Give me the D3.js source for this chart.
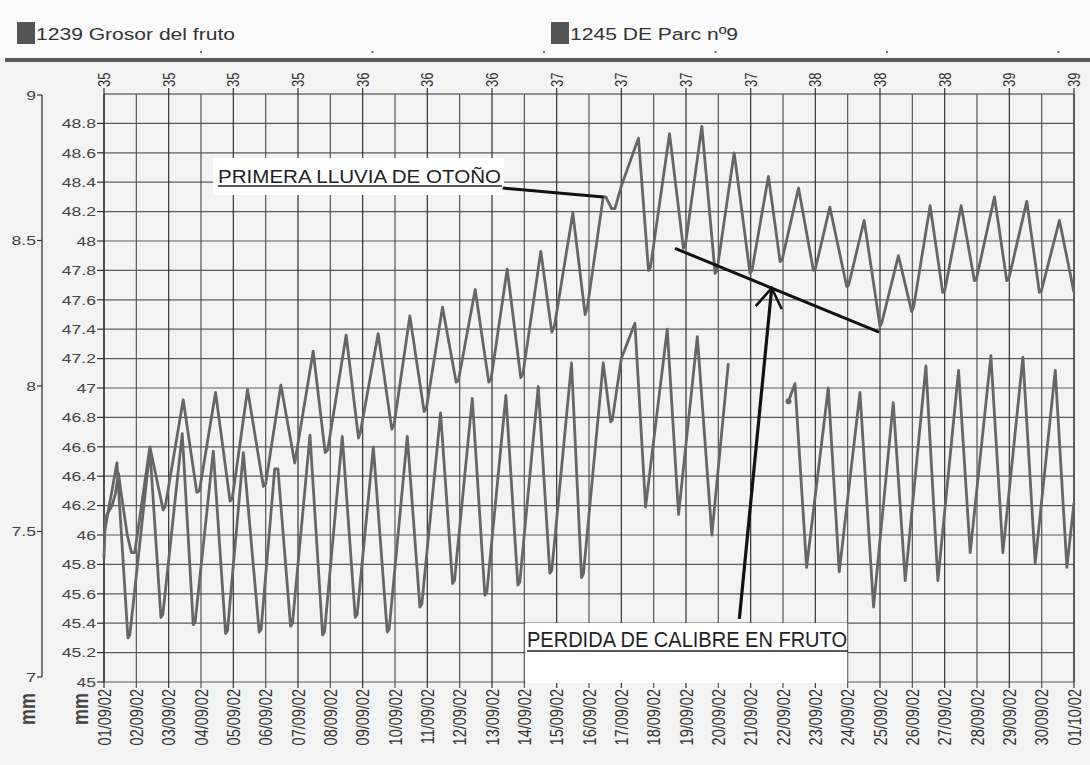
<!DOCTYPE html>
<html>
<head>
<meta charset="utf-8">
<script src="https://d3js.org/d3.v7.min.js"></script>
<style>
  body { margin: 0; background: #f3f3f3; }
  svg { display: block; font-family: "Liberation Sans", Arial, sans-serif; }
</style>
</head>
<body>
<svg id="chart" width="1090" height="765"></svg>
<script>
// ---- datos ----
const legendNames = ['1239 Grosor del fruto', '1245 DE Parc nº9'];

const dateLabels = ['01/09/02','02/09/02','03/09/02','04/09/02','05/09/02','06/09/02','07/09/02','08/09/02',
  '09/09/02','10/09/02','11/09/02','12/09/02','13/09/02','14/09/02','15/09/02','16/09/02','17/09/02',
  '18/09/02','19/09/02','20/09/02','21/09/02','22/09/02','23/09/02','24/09/02','25/09/02','26/09/02',
  '27/09/02','28/09/02','29/09/02','30/09/02','01/10/02'];

// semana (eje superior, cada 2 dias)
const weekLabels = ['35','35','35','35','36','36','36','37','37','37','37','38','38','38','39','39'];

const mmTicks = [45, 45.2, 45.4, 45.6, 45.8, 46, 46.2, 46.4, 46.6, 46.8, 47, 47.2, 47.4, 47.6, 47.8, 48, 48.2, 48.4, 48.6, 48.8];
const outerTicks = [7, 7.5, 8, 8.5, 9];

// [dia desde 01/09, mm]
const upperSeries = [
  [0,45.84],[0.04,46.12],[0.25,46.2],[0.35,46.28],[0.45,46.42],[0.52,46.3],[0.72,46.0],[0.85,45.88],[0.95,45.88],
  [1.42,46.6],[1.83,46.17],[1.9,46.2],[2.45,46.92],[2.87,46.29],[2.95,46.3],[3.45,46.97],[3.9,46.23],[3.97,46.25],
  [4.44,46.99],[4.93,46.33],[5.0,46.35],[5.47,47.02],[5.9,46.49],[6.47,47.25],[6.84,46.56],[6.92,46.58],
  [7.49,47.36],[7.87,46.66],[7.93,46.7],[8.48,47.37],[8.9,46.72],[8.97,46.75],[9.46,47.49],[9.9,46.84],[9.97,46.86],
  [10.47,47.55],[10.89,47.04],[10.96,47.05],[11.48,47.67],[11.9,47.04],[11.97,47.06],[12.47,47.81],[12.89,47.07],
  [12.96,47.1],[13.51,47.93],[13.85,47.38],[13.93,47.42],[14.5,48.19],[14.88,47.5],[14.95,47.55],[15.44,48.3],
  [15.52,48.3],[15.7,48.22],[15.8,48.22],[16.01,48.38],[16.53,48.7],[16.84,47.8],[16.9,47.82],[17.49,48.73],
  [17.92,47.95],[17.98,47.97],[18.49,48.78],[18.9,47.78],[18.96,47.8],[19.49,48.6],[19.98,47.78],[20.04,47.8],
  [20.55,48.44],[20.91,47.86],[20.97,47.87],[21.48,48.36],[21.94,47.8],[22.0,47.81],[22.45,48.23],[22.97,47.69],
  [23.03,47.7],[23.51,48.14],[24.0,47.42],[24.05,47.44],[24.57,47.9],[24.98,47.52],[25.04,47.55],[25.55,48.24],
  [25.94,47.65],[26.0,47.66],[26.51,48.24],[26.92,47.73],[26.98,47.74],[27.54,48.3],[27.92,47.73],[27.98,47.74],
  [28.54,48.27],[28.93,47.65],[28.99,47.66],[29.55,48.14],[30.0,47.65]
];

const lowerSeries = [
  [0,46.0],[0.4,46.49],[0.74,45.3],[0.8,45.32],[1.42,46.58],[1.76,45.44],[1.82,45.46],[2.42,46.69],[2.76,45.39],
  [2.82,45.41],[3.38,46.57],[3.76,45.33],[3.82,45.35],[4.31,46.56],[4.8,45.34],[4.86,45.36],[5.28,46.45],[5.38,46.45],
  [5.77,45.38],[5.83,45.4],[6.37,46.68],[6.76,45.32],[6.82,45.34],[7.37,46.67],[7.77,45.44],[7.83,45.46],[8.33,46.6],
  [8.76,45.34],[8.82,45.36],[9.38,46.67],[9.77,45.51],[9.83,45.53],[10.41,46.83],[10.78,45.67],[10.84,45.69],
  [11.39,46.93],[11.78,45.59],[11.84,45.61],[12.43,46.95],[12.8,45.66],[12.86,45.68],[13.43,47.01],[13.79,45.74],
  [13.85,45.76],[14.46,47.17],[14.77,45.71],[14.83,45.74],[15.44,47.17],[15.67,46.77],[15.72,46.78],[16.0,47.2],
  [16.42,47.44],[16.75,46.19],[17.42,47.4],[17.77,46.14],[18.35,47.35],[18.8,46.0],[19.31,47.17],
  [20.2,null],
  [21.17,46.91],[21.37,47.03],[21.73,45.78],[22.4,47.0],[22.74,45.75],[23.38,46.97],[23.8,45.51],[24.41,46.9],
  [24.78,45.69],[25.42,47.15],[25.79,45.69],[26.43,47.12],[26.79,45.88],[27.43,47.22],[27.8,45.88],[28.42,47.21],
  [28.8,45.81],[29.42,47.12],[29.78,45.78],[30.0,46.22]
];

// anotaciones en unidades de datos [dia, mm]
const rainNote = { text: 'PRIMERA LLUVIA DE OTOÑO', from: [12.33, 48.36], to: [15.45, 48.3] };
const lossNote = { text: 'PERDIDA DE CALIBRE EN FRUTO', lineFrom: [17.66, 47.95], lineTo: [23.97, 47.38],
                   arrowFrom: [19.65, 45.43], arrowTo: [20.65, 47.68] };

// ---- dibujo ----
const svg = d3.select('#chart');

const x = d3.scaleLinear().domain([0, 30]).range([104, 1074]);
const y = d3.scaleLinear().domain([45, 49]).range([682, 94]);
const yOut = d3.scaleLinear().domain([7, 9]).range([677, 95]);

svg.append('rect').attr('width', 1090).attr('height', 765).attr('fill', '#f3f3f3');
svg.append('rect').attr('width', 1090).attr('height', 58).attr('fill', '#fbfbfb');

// leyenda
const leg = svg.append('g');
legendNames.forEach((name, i) => {
  const lx = 17 + i * 534;
  leg.append('rect').attr('x', lx).attr('y', 22).attr('width', 18).attr('height', 22).attr('fill', '#555');
  leg.append('text').attr('transform', `translate(${lx + 19},40) scale(1.24,1)`)
    .attr('font-size', 17).attr('fill', '#333').text(name);
});
d3.range(6).forEach(i => {
  leg.append('rect').attr('x', 200 + i * 171.5).attr('y', 51).attr('width', 2).attr('height', 2).attr('fill', '#777');
});
svg.append('line').attr('x1', 5).attr('x2', 1090).attr('y1', 60).attr('y2', 60)
  .attr('stroke', '#5a5a5a').attr('stroke-width', 4);

// rejilla
const grid = svg.append('g');
grid.selectAll('line.h').data(mmTicks.concat([49])).join('line')
  .attr('x1', x(0)).attr('x2', x(30)).attr('y1', d => y(d)).attr('y2', d => y(d))
  .attr('stroke', d => d === 49 ? '#333' : '#5c5c5c').attr('stroke-width', 1.2);
grid.selectAll('line.v').data(dateLabels).join('line')
  .attr('x1', (d, i) => x(i)).attr('x2', (d, i) => x(i)).attr('y1', y(49)).attr('y2', y(45) + 6)
  .attr('stroke', (d, i) => i % 2 === 0 ? '#333' : '#555').attr('stroke-width', 1.2);

// cajas blancas de anotacion
svg.append('rect').attr('x', 213).attr('y', 158).attr('width', 291).attr('height', 37).attr('fill', '#fff');
svg.append('rect').attr('x', x(13) + 1).attr('y', 623).attr('width', x(23) - x(13) - 1.5).attr('height', 60).attr('fill', '#fff');

// eje izquierdo mm (45-49)
const axL = svg.append('g');
axL.append('line').attr('x1', x(0)).attr('x2', x(0)).attr('y1', y(49)).attr('y2', y(45))
  .attr('stroke', '#333').attr('stroke-width', 1.3);
mmTicks.forEach(t => {
  axL.append('line').attr('x1', x(0) - 7).attr('x2', x(0)).attr('y1', y(t)).attr('y2', y(t))
    .attr('stroke', '#333').attr('stroke-width', 1.2);
  axL.append('text').attr('transform', `translate(${x(0) - 8},${y(t)}) scale(1.3,1)`)
    .attr('text-anchor', 'end').attr('dy', '0.36em').attr('font-size', 13.5).attr('fill', '#444')
    .text(String(+t.toFixed(1)));
});

// eje exterior (7-9)
const axO = svg.append('g');
axO.append('line').attr('x1', 42).attr('x2', 42).attr('y1', yOut(9)).attr('y2', yOut(7))
  .attr('stroke', '#333').attr('stroke-width', 1.3);
outerTicks.forEach(t => {
  axO.append('line').attr('x1', 37).attr('x2', 42).attr('y1', yOut(t)).attr('y2', yOut(t))
    .attr('stroke', '#333').attr('stroke-width', 1.2);
  axO.append('text').attr('transform', `translate(36,${yOut(t)}) scale(1.3,1)`)
    .attr('text-anchor', 'end').attr('dy', '0.36em').attr('font-size', 13.5).attr('fill', '#444')
    .text(String(t));
});

// titulos mm
[35, 88].forEach(bx => {
  svg.append('text').attr('transform', `translate(${bx},693) scale(1.2,1) rotate(-90)`)
    .attr('text-anchor', 'end').attr('font-size', 18).attr('font-weight', 'bold').attr('fill', '#444').text('mm');
});

// eje inferior (fechas)
const axB = svg.append('g');
dateLabels.forEach((lab, i) => {
  axB.append('text').attr('transform', `translate(${x(i)},689) scale(1.25,1) rotate(-90)`)
    .attr('text-anchor', 'end').attr('dy', '0.36em').attr('font-size', 14.5).attr('fill', '#333').text(lab);
});

// eje superior (semana)
const axT = svg.append('g');
weekLabels.forEach((lab, i) => {
  const tx = x(i * 2);
  axT.append('line').attr('x1', tx).attr('x2', tx).attr('y1', y(49) - 6).attr('y2', y(49))
    .attr('stroke', '#333').attr('stroke-width', 1.2);
  axT.append('text').attr('transform', `translate(${tx},87) scale(1.25,1) rotate(-90)`)
    .attr('text-anchor', 'start').attr('dy', '0.36em').attr('font-size', 13).attr('fill', '#333').text(lab);
});
axT.append('line').attr('x1', x(30)).attr('x2', x(30)).attr('y1', y(49)).attr('y2', y(45))
  .attr('stroke', '#444').attr('stroke-width', 1.2);

// series
const line = d3.line().defined(d => d[1] !== null).x(d => x(d[0])).y(d => y(d[1]));
[upperSeries, lowerSeries].forEach(s => {
  svg.append('path').attr('d', line(s)).attr('fill', 'none')
    .attr('stroke', '#666').attr('stroke-width', 2.8).attr('stroke-linejoin', 'round');
});
svg.append('circle').attr('cx', x(21.17)).attr('cy', y(46.91)).attr('r', 3).attr('fill', '#666');

// anotacion lluvia
svg.append('text').attr('x', 218).attr('y', 183).attr('font-size', 19).attr('fill', '#222')
  .attr('textLength', 283).attr('lengthAdjust', 'spacingAndGlyphs').text(rainNote.text);
svg.append('line').attr('x1', 218).attr('x2', 502).attr('y1', 186).attr('y2', 186).attr('stroke', '#222').attr('stroke-width', 1.4);
svg.append('line').attr('x1', x(rainNote.from[0])).attr('y1', y(rainNote.from[1]))
  .attr('x2', x(rainNote.to[0])).attr('y2', y(rainNote.to[1])).attr('stroke', '#111').attr('stroke-width', 3);

// anotacion perdida de calibre
svg.append('text').attr('x', 527).attr('y', 647).attr('font-size', 22).attr('fill', '#222')
  .attr('textLength', 320).attr('lengthAdjust', 'spacingAndGlyphs').text(lossNote.text);
svg.append('line').attr('x1', 527).attr('x2', 848).attr('y1', 651).attr('y2', 651).attr('stroke', '#222').attr('stroke-width', 1.4);
svg.append('line').attr('x1', x(lossNote.lineFrom[0])).attr('y1', y(lossNote.lineFrom[1]))
  .attr('x2', x(lossNote.lineTo[0])).attr('y2', y(lossNote.lineTo[1])).attr('stroke', '#111').attr('stroke-width', 3);
const ax0 = x(lossNote.arrowFrom[0]), ay0 = y(lossNote.arrowFrom[1]);
const ax1 = x(lossNote.arrowTo[0]), ay1 = y(lossNote.arrowTo[1]);
svg.append('line').attr('x1', ax0).attr('y1', ay0).attr('x2', ax1).attr('y2', ay1)
  .attr('stroke', '#111').attr('stroke-width', 3.2);
svg.append('path').attr('d', `M${ax1 - 16},${ay1 + 18}L${ax1},${ay1}L${ax1 + 10},${ay1 + 21}`)
  .attr('fill', 'none').attr('stroke', '#111').attr('stroke-width', 2.6);
</script>
</body>
</html>
